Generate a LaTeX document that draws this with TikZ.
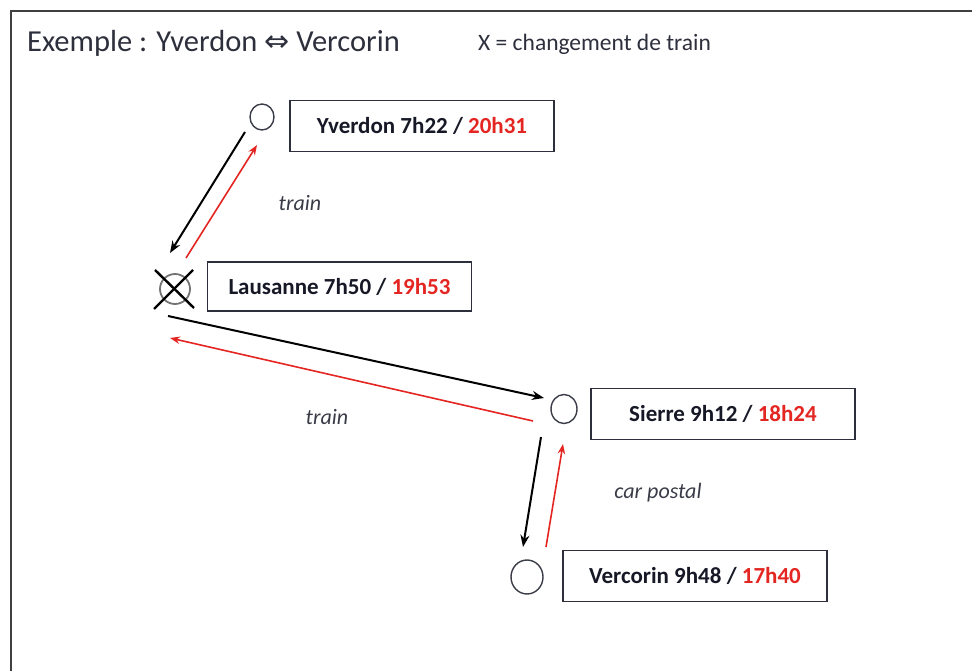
\documentclass[tikz,border=0pt]{standalone}
\usepackage{fontspec}
\setmainfont{Carlito}
\newfontfamily\dejavu{DejaVu Sans}
\usetikzlibrary{shapes.geometric,arrows.meta,calc}
\definecolor{arrred}{RGB}{228,38,34}
\definecolor{ink}{RGB}{22,24,38}
\begin{document}
\begin{tikzpicture}[x=1pt,y=-1pt,
  station/.style={ellipse,draw=ink!85,line width=1.4pt,inner sep=0pt},
  tbox/.style={draw=ink!90,line width=1.7pt,minimum width=264pt,minimum height=51pt,inner sep=0pt,font=\fontsize{23}{26}\selectfont\bfseries,text=ink},
  blkarr/.style={draw=black,line width=2pt,-{Stealth[length=12pt,width=9pt]}},
  redarr/.style={draw=arrred,line width=1.6pt,-{Stealth[length=10pt,width=7.5pt]}},
  lbl/.style={font=\fontsize{22}{26}\selectfont\itshape,text=ink!85},
  ttl/.style={inner sep=0pt,anchor=west,text=ink!90}
]
\useasboundingbox (0,0) rectangle (972,671);
\draw[line width=2.5pt,draw=black!75] (972,11) -- (11,11) -- (11,671);

\node[ttl,font=\fontsize{30.5}{34}\selectfont] (title) at (27,43) {Exemple : Yverdon {\dejavu\fontsize{30}{34}\selectfont ⇔} Vercorin};
\node[ttl,font=\fontsize{23.5}{26}\selectfont] (note) at (478,44) {X = changement de train};

\node[station,minimum width=24pt,minimum height=26pt] (yv) at (262,117) {};
\node[station,minimum width=30pt,minimum height=30pt,draw=black!55,line width=1.8pt] (la) at (175,289) {};
\node[station,minimum width=26pt,minimum height=29pt] (si) at (564,409) {};
\node[station,minimum width=32pt,minimum height=34pt] (ve) at (527,577) {};

\draw[line width=2.4pt,draw=black] ($(la)+(-20,-19)$) -- ($(la)+(19,19)$);
\draw[line width=2.4pt,draw=black] ($(la)+(18,-19)$) -- ($(la)+(-21,20)$);

\node[tbox] (yvb) at (422,126) {Yverdon 7h22 / \textcolor{arrred}{20h31}};
\node[tbox,minimum height=49pt] (lab) at (339.5,286.5) {Lausanne 7h50 / \textcolor{arrred}{19h53}};
\node[tbox] (sib) at (723,414) {Sierre 9h12 / \textcolor{arrred}{18h24}};
\node[tbox] (veb) at (695,576) {Vercorin 9h48 / \textcolor{arrred}{17h40}};

\draw[blkarr] ($(yv)+(-17,15)$) -- ($(la)+(-5,-36)$);
\draw[redarr] ($(la)+(11,-31)$) -- ($(yv)+(-5,28)$);
\draw[blkarr] ($(la)+(-7,27)$) -- ($(si)+(-20,-11)$);
\draw[redarr] ($(si)+(-31,12)$) -- ($(la)+(-5,49)$);
\draw[blkarr] ($(si)+(-23,28)$) -- ($(ve)+(-4,-30)$);
\draw[redarr] ($(ve)+(19,-30)$) -- ($(si)+(-1,35)$);

\node[lbl] (t1) at (300,203) {train};
\node[lbl] (t2) at (327,417) {train};
\node[lbl] (cp) at (658,493) {car postal};
\end{tikzpicture}
\end{document}
